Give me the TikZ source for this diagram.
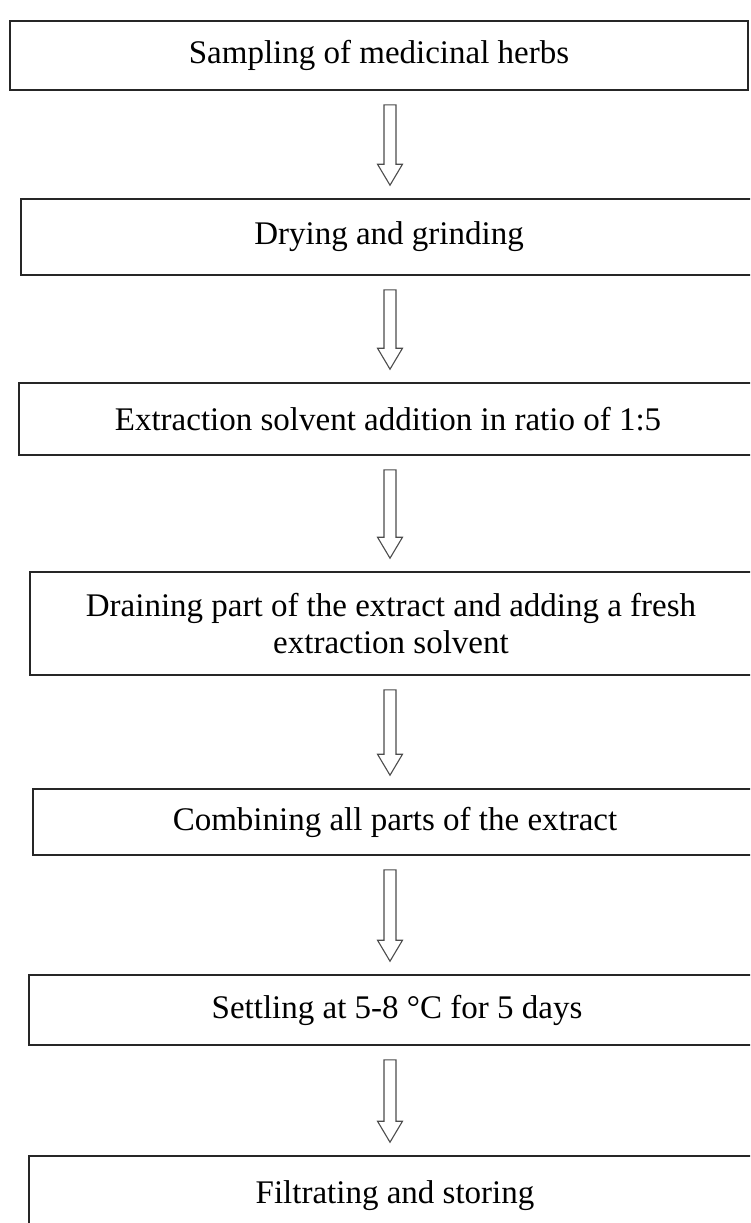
\documentclass[tikz,border=0pt]{standalone}
\usepackage{fontspec}
\setmainfont{Liberation Serif}
\usetikzlibrary{calc}

\tikzset{
  stagebox/.style={draw=black!85, line width=1.6pt, align=center, inner sep=0pt,
    font=\fontsize{33}{37}\selectfont},
  blockarrow/.style={draw=black!70, line width=1.1pt, line join=miter, fill=white}
}

% hollow block arrow from the bottom of one box to the top of the next
\newcommand{\flowarrow}[2]{%
  \draw[blockarrow] let \p1=(#1.south), \p2=(#2.north) in
    (384pt,\y1-14pt) -- (396pt,\y1-14pt) -- (396pt,\y2+34pt) -- (402.5pt,\y2+34pt)
    -- (390pt,\y2+13pt) -- (377.5pt,\y2+34pt) -- (384pt,\y2+34pt) -- cycle;}

\begin{document}
\begin{tikzpicture}[x=1pt,y=-1pt]
\useasboundingbox (0,0) rectangle (750,1223);
\clip (0,0) rectangle (750,1223);

% Stages
\node[stagebox, minimum width=738pt, minimum height=69pt] (b1) at (379,55.5) {Sampling of medicinal herbs};
\node[stagebox, minimum width=736pt, minimum height=76pt] (b2) at (389,237) {Drying and grinding};
\node[stagebox, minimum width=738pt, minimum height=72pt] (b3) at (388,419) {Extraction solvent addition in ratio of 1:5};
\node[stagebox, minimum width=722pt, minimum height=103pt] (b4) at (391,623.5) {Draining part of the extract and adding a fresh\\extraction solvent};
\node[stagebox, minimum width=724pt, minimum height=66pt] (b5) at (395,822) {Combining all parts of the extract};
\node[stagebox, minimum width=736pt, minimum height=70pt] (b6) at (397,1010) {Settling at 5-8 °C for 5 days};
\node[stagebox, minimum width=732pt, minimum height=80pt] (b7) at (395,1196) {Filtrating and storing};

% Arrows
\flowarrow{b1}{b2}
\flowarrow{b2}{b3}
\flowarrow{b3}{b4}
\flowarrow{b4}{b5}
\flowarrow{b5}{b6}
\flowarrow{b6}{b7}
\end{tikzpicture}
\end{document}
